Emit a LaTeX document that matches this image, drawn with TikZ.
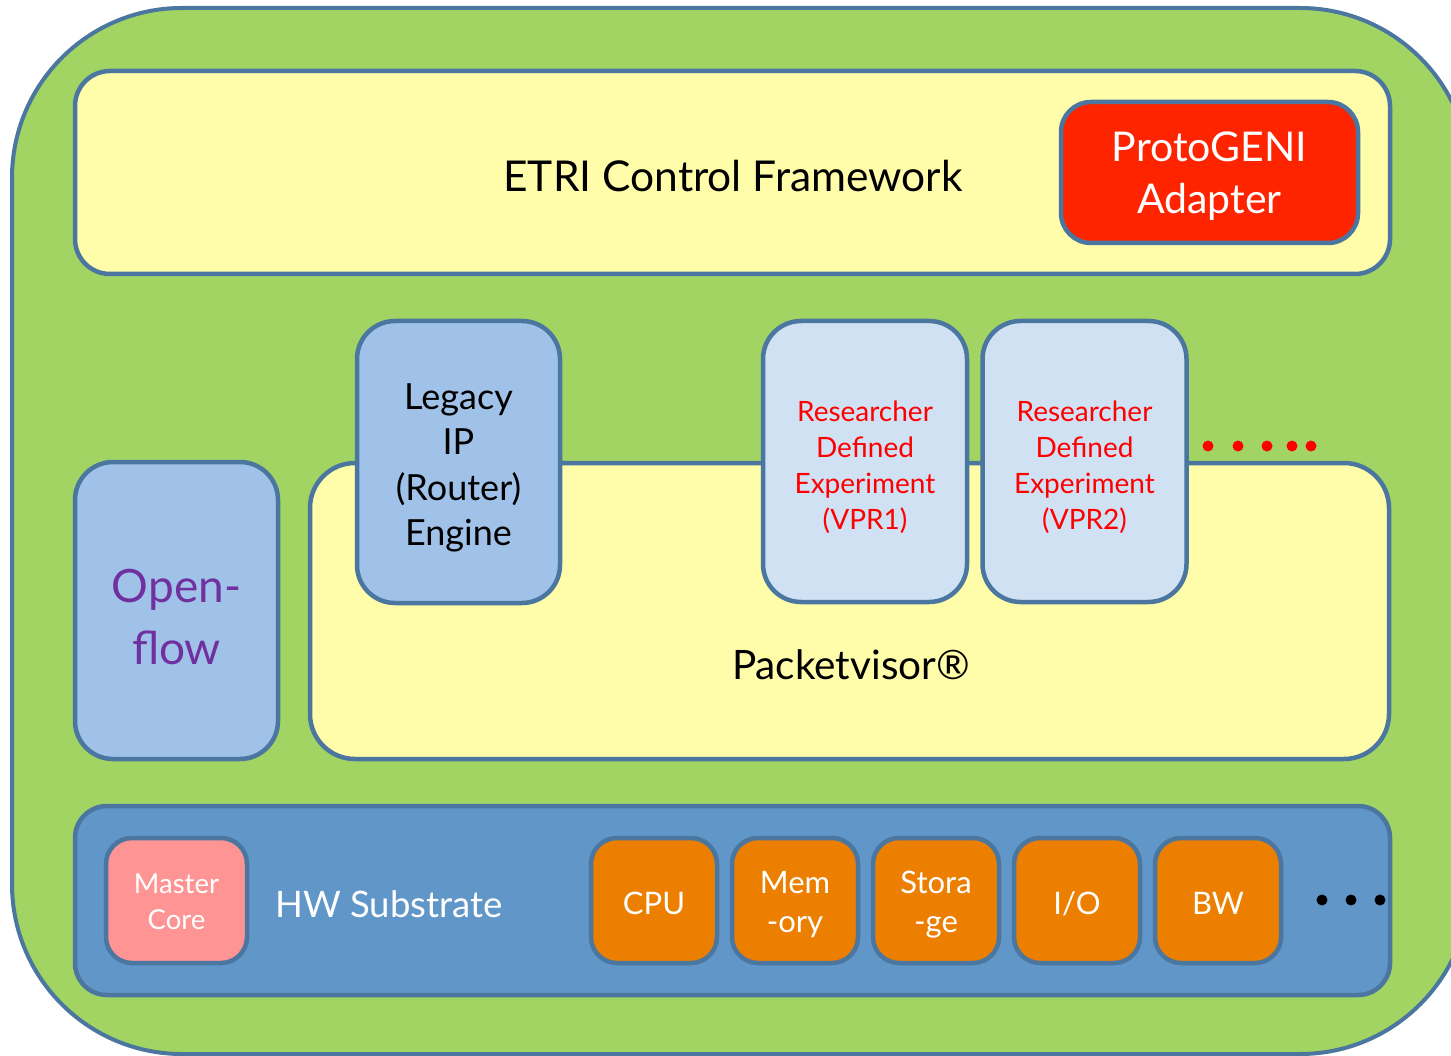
\documentclass[tikz,border=0pt]{standalone}
\usepackage{fontspec}
\setmainfont{Lato}
\definecolor{outgreen}{HTML}{A1D463}
\definecolor{edge}{HTML}{4A76A0}
\definecolor{yel}{HTML}{FFFCAA}
\definecolor{pgred}{HTML}{FF2400}
\definecolor{lblue}{HTML}{A0C2E8}
\definecolor{vblue}{HTML}{D0E1F3}
\definecolor{hwblue}{HTML}{6096C8}
\definecolor{pink}{HTML}{FF9494}
\definecolor{orng}{HTML}{EC7F00}
\definecolor{purp}{HTML}{7030A0}
\definecolor{txtred}{HTML}{FF0000}
\tikzset{
  box/.style={draw=edge, line width=4.5pt, inner sep=0pt, outer sep=0pt},
  lbl/.style={inner sep=0pt, align=center},
  res/.style={box, fill=vblue, minimum width=204, minimum height=281, rounded corners=38},
  restext/.style={lbl, text=txtred, font=\fontsize{28}{36}\selectfont},
  hwitem/.style={box, fill=orng, minimum width=126, minimum height=125, rounded corners=26},
  hwtext/.style={lbl, text=white, font=\fontsize{31}{39}\selectfont},
  dotr/.style={circle, fill=red, inner sep=0pt, minimum size=11},
  dotk/.style={circle, fill=black, inner sep=0pt, minimum size=11},
}
\begin{document}
\begin{tikzpicture}[x=1pt, y=-1pt]
\useasboundingbox (0,0) rectangle (1451,1056);
\clip (0,0) rectangle (1451,1056);
% outer frame
\node[box, fill=outgreen, minimum width=1458, minimum height=1046, rounded corners=170, line width=4pt] (frame) at (741,531) {};
% control framework
\node[box, fill=yel, minimum width=1315, minimum height=203, rounded corners=35] (ctrl) at (732.5,172.5) {};
\node[lbl, font=\fontsize{42.5}{50}\selectfont] (etri) at (733,176) {ETRI Control Framework};
\node[box, fill=pgred, minimum width=297, minimum height=141, rounded corners=30] (pg) at (1209.5,172.5) {};
\node[lbl, text=white, font=\fontsize{41}{52}\selectfont] (pgt) at ([yshift=-4pt]pg.center) {ProtoGENI\\Adapter};
% openflow
\node[box, fill=lblue, minimum width=203, minimum height=297, rounded corners=38] (of) at (176.5,610.5) {};
\node[lbl, text=purp, font=\fontsize{46}{62}\selectfont] (oft) at ([yshift=-6pt]of.center) {Open-\\flow};
% packetvisor
\node[box, fill=yel, minimum width=1079, minimum height=296, rounded corners=45] (pv) at (849.5,611) {};
\node[lbl, font=\fontsize{40.5}{48}\selectfont] (pvt) at (851,665) {Packetvisor®};
% legacy
\node[box, fill=lblue, minimum width=203, minimum height=282, rounded corners=38] (leg) at (458.5,462) {};
\node[lbl, font=\fontsize{36}{45.5}\selectfont] (legt) at ([yshift=-6pt]leg.center) {Legacy\\IP\\(Router)\\Engine};
% researcher experiments
\node[res] (vpr1) at (865,461.5) {};
\node[restext] (vpr1t) at ([yshift=-6pt]vpr1.center) {Researcher\\Defined\\Experiment\\(VPR1)};
\node[res] (vpr2) at (1084.5,461.5) {};
\node[restext] (vpr2t) at ([yshift=-6pt]vpr2.center) {Researcher\\Defined\\Experiment\\(VPR2)};
\foreach \x [count=\i] in {1208,1238,1267,1292,1311} \node[dotr] (rd\i) at (\x,446) {};
% hardware substrate
\node[box, fill=hwblue, minimum width=1315, minimum height=189, rounded corners=32] (hw) at (732.5,900.5) {};
\node[box, fill=pink, minimum width=141, minimum height=125, rounded corners=26] (mc) at (176.5,900.5) {};
\node[lbl, text=white, font=\fontsize{27.5}{36}\selectfont] (mct) at ([yshift=-1.5pt]mc.center) {Master\\Core};
\node[lbl, text=white, font=\fontsize{36.5}{42}\selectfont] (hwt) at (389,904) {HW Substrate};
\node[hwitem] (cpu) at (654,900.5) {};
\node[hwtext] (cput) at ([yshift=-3pt]cpu.center) {CPU};
\node[hwitem] (mem) at (795,900.5) {};
\node[hwtext] (memt) at ([yshift=-4pt]mem.center) {Mem\\-ory};
\node[hwitem] (sto) at (936,900.5) {};
\node[hwtext] (stot) at ([yshift=-4pt]sto.center) {Stora\\-ge};
\node[hwitem] (io) at (1077,900.5) {};
\node[hwtext] (iot) at ([yshift=-3pt]io.center) {I/O};
\node[hwitem] (bw) at (1218,900.5) {};
\node[hwtext] (bwt) at ([yshift=-3pt]bw.center) {BW};
\foreach \x [count=\i] in {1322,1351,1380} \node[dotk] (kd\i) at (\x,900) {};
\end{tikzpicture}
\end{document}
